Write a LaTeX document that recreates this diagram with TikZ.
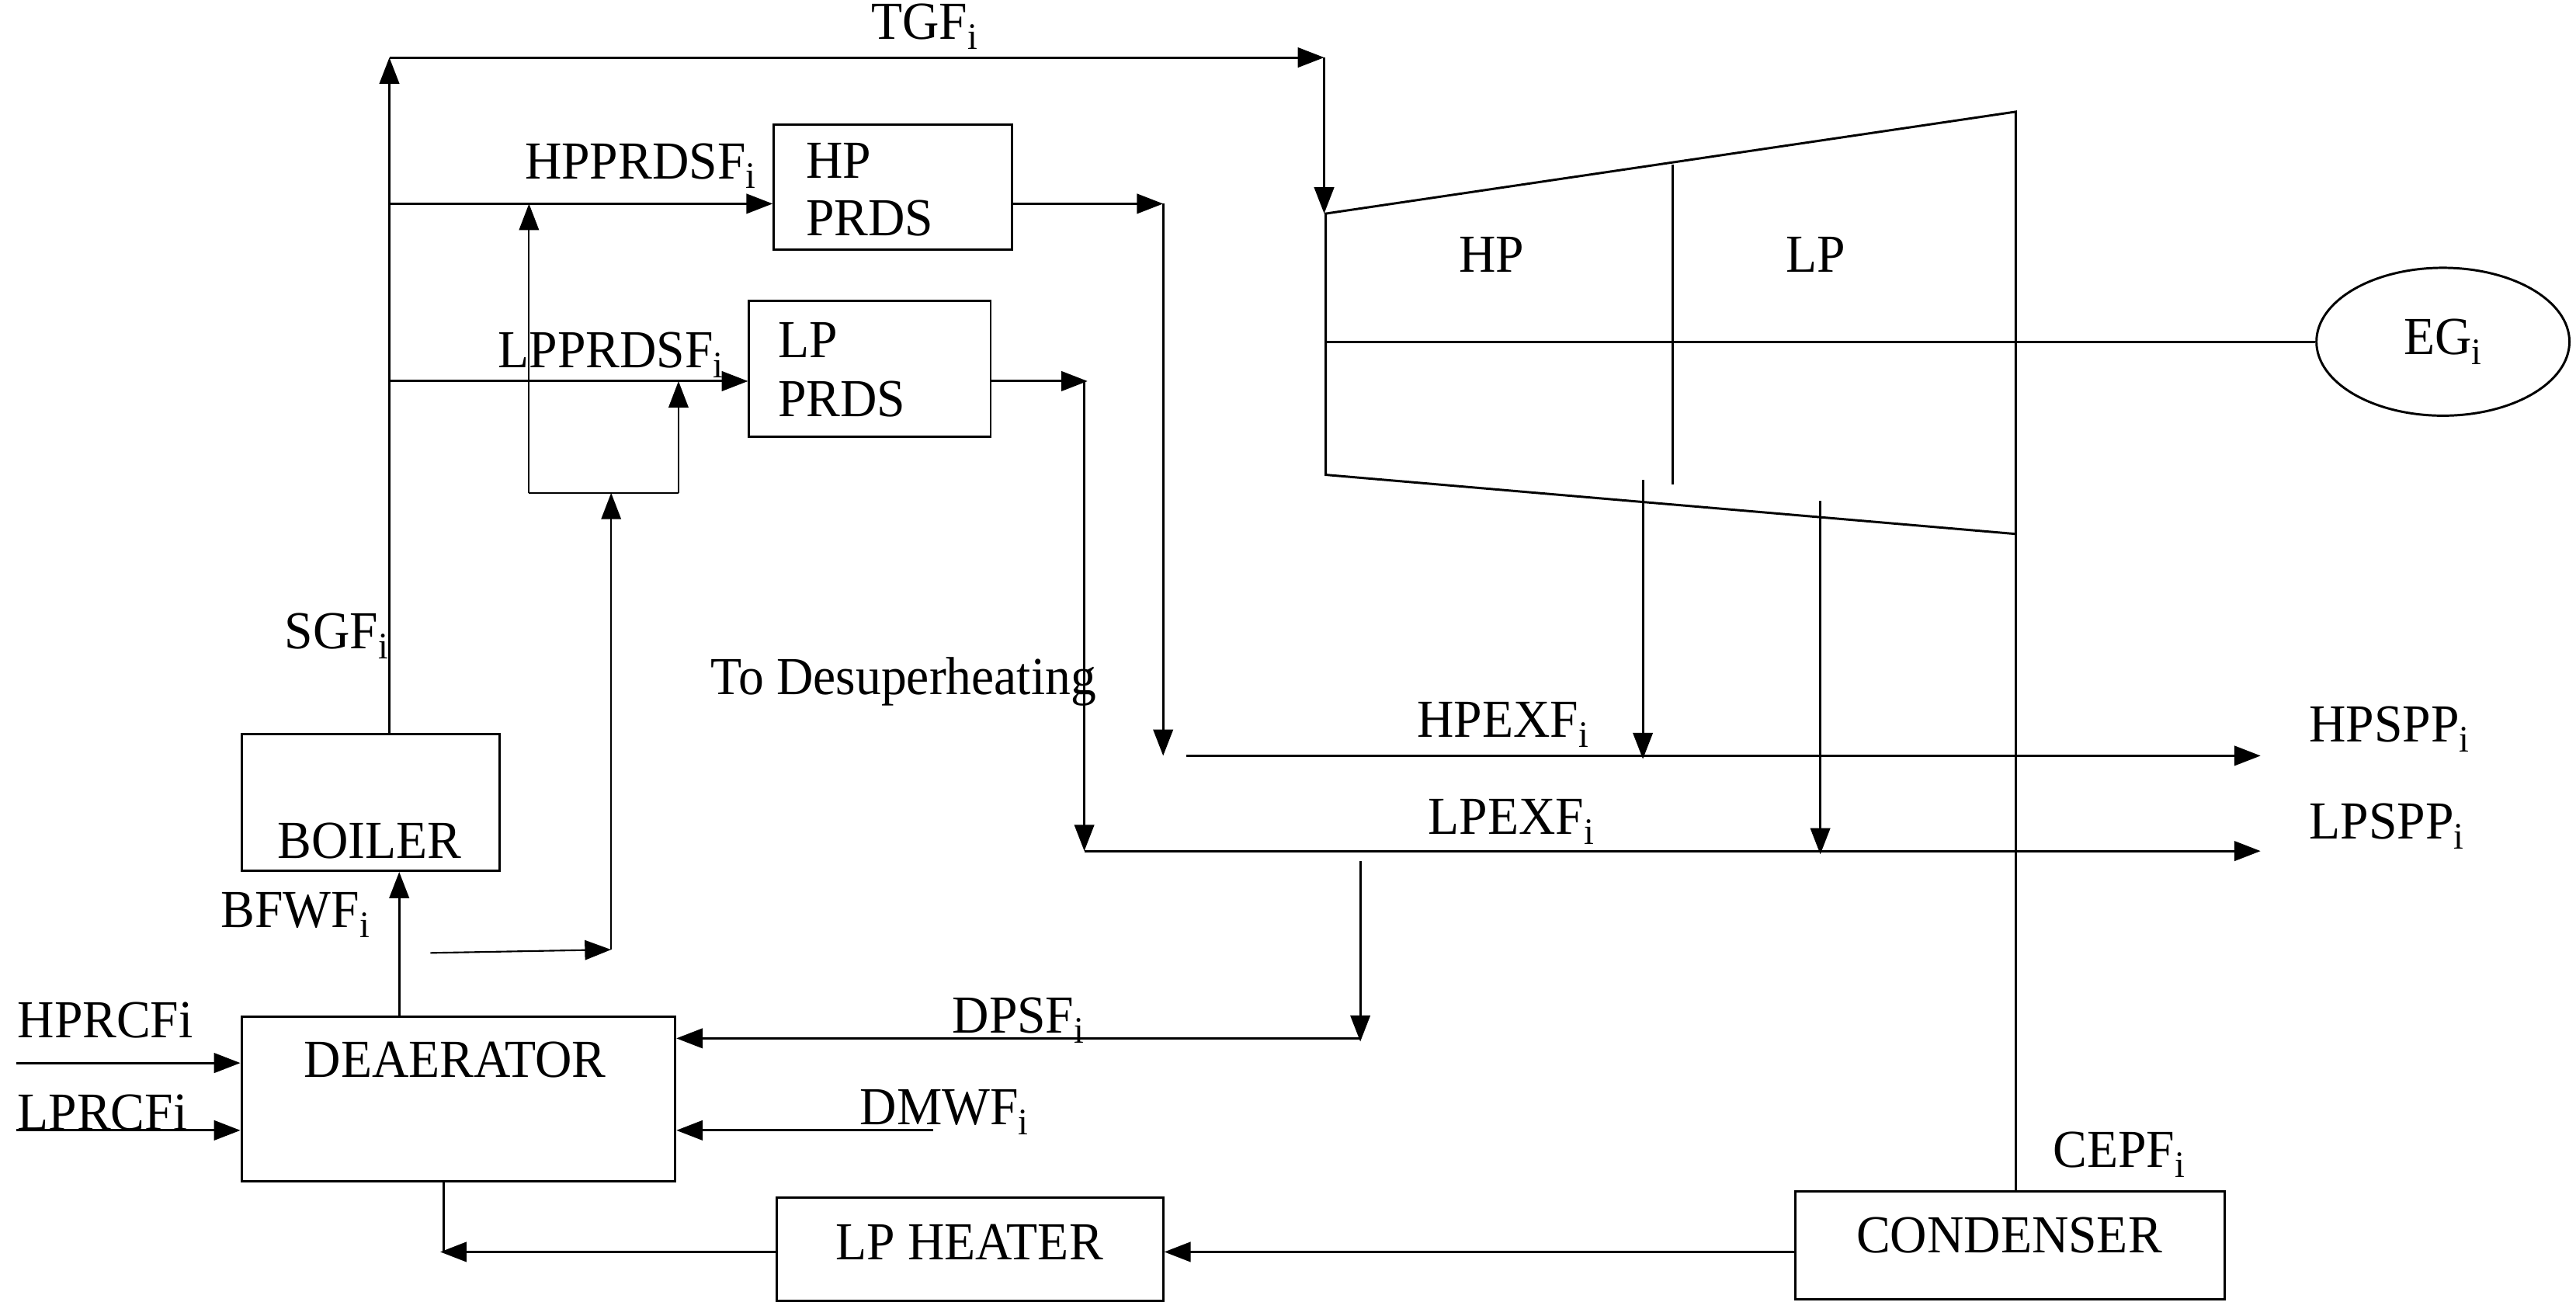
\documentclass[tikz,border=0pt]{standalone}
\usepackage{fontspec}
\setmainfont{Liberation Serif}
\usetikzlibrary{arrows.meta,shapes.geometric}
\begin{document}
\begin{tikzpicture}[x=1pt,y=-1pt,line width=1.4pt,
  box/.style={draw,rectangle,inner sep=0pt},
  txt/.style={inner sep=0pt,font=\fontsize{31}{33}\selectfont,yscale=1.05,transform shape},
  arr/.style={-{Triangle[length=16pt,width=12pt]}}]
\useasboundingbox (0,0) rectangle (1568,801);
% boxes
\node[box,minimum width=145pt,minimum height=76pt] (hp) at (543.5,114) {};
\node[box,minimum width=147pt,minimum height=83pt] (lp) at (529.5,224.5) {};
\node[box,minimum width=157pt,minimum height=83pt] (boiler) at (225.5,488.5) {};
\node[box,minimum width=264pt,minimum height=100pt] (dea) at (279,669) {};
\node[box,minimum width=235pt,minimum height=63pt] (lph) at (590.5,760.5) {};
\node[box,minimum width=261pt,minimum height=66pt] (cond) at (1223.5,758) {};
\node[draw,ellipse,minimum width=154pt,minimum height=90pt,inner sep=0pt] (eg) at (1487,208) {};
% texts
\node[txt,anchor=west] at (490,98) {HP};
\node[txt,anchor=west] at (490,133) {PRDS};
\node[txt,anchor=west] at (473,207) {LP};
\node[txt,anchor=west] at (473,243) {PRDS};
\node[txt] at (225,512) {BOILER};
\node[txt] at (277,645) {DEAERATOR};
\node[txt] at (590,756) {LP HEATER};
\node[txt] at (1223,752) {CONDENSER};
\node[txt] at (1487,208) {EG\textsubscript{i}};
\node[txt] at (908,155) {HP};
\node[txt] at (1105,155) {LP};
\node[txt] at (563,16) {TGF\textsubscript{i}};
\node[txt] at (390,101) {HPPRDSF\textsubscript{i}};
\node[txt] at (372,216) {LPPRDSF\textsubscript{i}};
\node[txt] at (205,387) {SGF\textsubscript{i}};
\node[txt] at (550,415) {To Desuperheating};
\node[txt] at (915,441) {HPEXF\textsubscript{i}};
\node[txt] at (920,500) {LPEXF\textsubscript{i}};
\node[txt,anchor=west] at (1405,444) {HPSPP\textsubscript{i}};
\node[txt,anchor=west] at (1405,503) {LPSPP\textsubscript{i}};
\node[txt] at (180,557) {BFWF\textsubscript{i}};
\node[txt] at (620,621) {DPSF\textsubscript{i}};
\node[txt] at (575,677) {DMWF\textsubscript{i}};
\node[txt] at (1290,703) {CEPF\textsubscript{i}};
\node[txt,anchor=west] at (10,621) {HPRCFi};
\node[txt,anchor=west] at (10,677) {LPRCFi};
% turbine
\coordinate (t1) at (807,130); \coordinate (t2) at (1227,68);
\coordinate (t3) at (1227,325); \coordinate (t4) at (807,289);
\draw (t1) -- (t2) -- (t3) -- (t4) -- cycle;
\draw (1018,100) -- (1018,295);
\draw (807,208) -- (eg.west);
% steam lines
\draw[arr] (boiler.north -| 237,0) -- (237,35);
\draw[arr] (237,35) -- (806,35);
\draw[arr] (806,35) -- (806,130);
\draw[arr] (237,124) -- (hp.west |- 0,124);
\draw[arr] (237,232) -- (lp.west |- 0,232);
\draw[arr,line width=1pt] (322,300) -- (322,124);
\draw[line width=1pt] (322,300) -- (413,300);
\draw[arr,line width=1pt] (413,300) -- (413,232);
\draw[arr,line width=1pt] (372,578) -- (372,300);
\draw[arr,line width=1pt] (262,580) -- (372,578);
\draw[arr] (hp.east |- 0,124) -- (708,124);
\draw[arr] (708,124) -- (708,460);
\draw[arr] (722,460) -- (1376,460);
\draw[arr] (lp.east |- 0,232) -- (662,232);
\draw[arr] (660,232) -- (660,518);
\draw[arr] (660,518) -- (1376,518);
\draw[arr] (1000,292) -- (1000,462);
\draw[arr] (1108,305) -- (1108,520);
\draw (t3) -- (cond.north -| t3);
\draw[arr] (828,524) -- (828,634);
\draw[arr] (828,632) -- (dea.east |- 0,632);
\draw[arr] (568,688) -- (dea.east |- 0,688);
\draw[arr] (10,647) -- (dea.west |- 0,647);
\draw[arr] (10,688) -- (dea.west |- 0,688);
\draw[arr] (243,619) -- (boiler.south -| 243,0);
\draw[arr] (cond.west |- 0,762) -- (lph.east |- 0,762);
\draw (270,719) -- (270,762);
\draw[arr] (lph.west |- 0,762) -- (268,762);
\end{tikzpicture}
\end{document}
